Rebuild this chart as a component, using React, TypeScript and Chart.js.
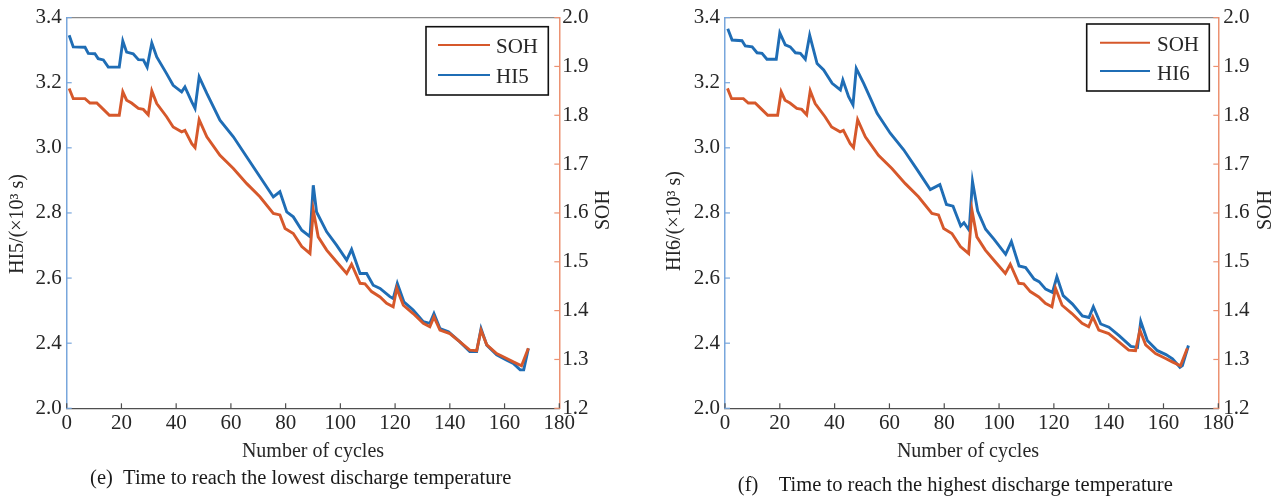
import React, { useEffect, useRef } from "react";
import { Chart, registerables } from "chart.js";

Chart.register(...registerables);

// ---------- data ----------
const sohCycles = [
  0.9, 2.4, 6.7, 8.5, 11.0, 13.4, 15.6, 19.2, 20.5, 21.9,
  23.7, 26.2, 28.0, 29.8, 31.1, 32.9, 36.5, 38.9, 42.0, 43.2,
  45.7, 46.9, 48.4, 51.2, 56.0, 60.9, 65.8, 70.6, 75.5, 77.9,
  79.8, 82.8, 85.9, 88.9, 90.1, 91.9, 95.0, 98.6, 102.3, 104.1,
  107.2, 109.0, 111.4, 114.5, 116.9, 119.3, 120.6, 123.0, 126.6, 130.3,
  132.7, 134.2, 136.4, 140.0, 143.7, 147.3, 149.8, 151.4, 153.5, 157.1,
  160.8, 163.2, 166.2, 168.7,
];
const sohValues = [
  1.855, 1.834, 1.834, 1.825, 1.825, 1.812, 1.8, 1.8, 1.848, 1.831,
  1.825, 1.814, 1.812, 1.801, 1.85, 1.824, 1.797, 1.776, 1.766, 1.769,
  1.742, 1.734, 1.791, 1.756, 1.718, 1.691, 1.66, 1.633, 1.599, 1.596,
  1.568, 1.558, 1.531, 1.517, 1.606, 1.551, 1.524, 1.5, 1.476, 1.495,
  1.456, 1.455, 1.439, 1.428, 1.415, 1.408, 1.446, 1.411, 1.394, 1.374,
  1.367, 1.387, 1.36, 1.353, 1.336, 1.319, 1.318, 1.36, 1.33, 1.312,
  1.302, 1.295, 1.287, 1.323,
];

const hi5Cycles = [
  0.9, 2.4, 6.7, 7.9, 10.3, 11.5, 13.4, 15.2, 19.2, 20.5,
  21.9, 24.3, 26.2, 28.0, 29.4, 31.1, 32.9, 36.5, 38.9, 42.0,
  43.2, 45.7, 46.9, 48.4, 51.2, 56.0, 60.9, 65.8, 70.6, 75.5,
  77.9, 80.4, 82.8, 85.9, 88.9, 90.1, 91.3, 95.0, 98.6, 102.3,
  104.1, 107.2, 109.6, 112.0, 114.5, 118.1, 119.3, 120.8, 123.2, 126.6,
  130.3, 132.7, 134.2, 136.4, 139.5, 143.7, 147.3, 149.8, 151.4, 153.5,
  157.1, 160.8, 163.2, 165.7, 167.0, 168.7,
];
const hi5Values = [
  3.346, 3.31, 3.309, 3.29, 3.289, 3.274, 3.27, 3.248, 3.248, 3.328,
  3.294, 3.289, 3.271, 3.27, 3.248, 3.322, 3.279, 3.228, 3.192, 3.172,
  3.187, 3.141, 3.121, 3.218, 3.167, 3.085, 3.034, 2.972, 2.911, 2.849,
  2.865, 2.803, 2.788, 2.747, 2.727, 2.885, 2.803, 2.742, 2.701, 2.655,
  2.688, 2.614, 2.614, 2.578, 2.568, 2.543, 2.537, 2.584, 2.527, 2.502,
  2.466, 2.461, 2.491, 2.445, 2.435, 2.404, 2.374, 2.374, 2.445, 2.394,
  2.364, 2.348, 2.338, 2.318, 2.318, 2.384,
];

const hi6Cycles = [
  1.0, 2.6, 6.2, 7.4, 9.9, 11.7, 13.5, 15.3, 18.7, 20.0,
  22.0, 23.8, 25.7, 27.5, 29.3, 30.9, 33.6, 36.0, 39.1, 42.1,
  43.0, 45.1, 46.7, 47.9, 50.6, 53.6, 55.5, 60.3, 65.2, 70.1,
  74.9, 78.4, 80.8, 83.2, 86.0, 87.2, 89.1, 90.3, 92.2, 95.1,
  98.2, 102.4, 104.5, 107.3, 109.7, 112.8, 114.6, 117.0, 119.5, 121.1,
  123.4, 126.8, 130.4, 132.8, 134.4, 137.1, 140.1, 143.8, 148.1, 150.5,
  151.7, 154.1, 157.8, 160.9, 163.3, 166.0, 166.9, 169.1,
];
const hi6Values = [
  3.366, 3.331, 3.329, 3.313, 3.31, 3.292, 3.29, 3.272, 3.272, 3.353,
  3.316, 3.31, 3.292, 3.29, 3.272, 3.346, 3.259, 3.239, 3.198, 3.178,
  3.208, 3.157, 3.132, 3.244, 3.198, 3.142, 3.106, 3.045, 2.994, 2.933,
  2.872, 2.887, 2.826, 2.821, 2.76, 2.77, 2.747, 2.897, 2.806, 2.75,
  2.719, 2.673, 2.712, 2.637, 2.632, 2.597, 2.589, 2.566, 2.556, 2.604,
  2.546, 2.52, 2.484, 2.479, 2.512, 2.459, 2.449, 2.423, 2.39, 2.387,
  2.467, 2.408, 2.377, 2.365, 2.352, 2.326, 2.331, 2.393,
];

const xTickValues = [0, 20, 40, 60, 80, 100, 120, 140, 160, 180];
const hiTickValues = [2.2, 2.4, 2.6, 2.8, 3.0, 3.2, 3.4];
const hiTickLabels = ["2.0", "2.4", "2.6", "2.8", "3.0", "3.2", "3.4"];
const sohTickValues = [1.2, 1.3, 1.4, 1.5, 1.6, 1.7, 1.8, 1.9, 2.0];
const sohTickLabels = ["1.2", "1.3", "1.4", "1.5", "1.6", "1.7", "1.8", "1.9", "2.0"];

// ---------- styling ----------
const FONT = '"Liberation Serif", "Times New Roman", serif';
const BLUE = "#1f6db5";
const ORANGE = "#d6582b";
const BLUE_AXIS = "#78a6dc";
const ORANGE_AXIS = "#ec9272";
const GRAY_AXIS = "#4f4f4f";
const TEXT = "#262626";

type PanelCfg = {
  left: number;
  width: number;
  height: number;
  area: { left: number; right: number; top: number; bottom: number };
  hiLabel: string;
  hiCycles: number[];
  hiValues: number[];
  yTitle: string;
  yTitlePos: [number, number];
  sohTitlePos: [number, number];
  xTitlePos: [number, number];
  caption: string;
  captionPos: [number, number];
  legendBox: [number, number, number, number];
  legendLineX: [number, number];
  legendLineY: [number, number];
  legendTextX: number;
  legendTextBase: [number, number];
  leftPad: number;
  rightPad: number;
};

const panels: PanelCfg[] = [
  {
    left: 0,
    width: 642,
    height: 497,
    area: { left: 66.7, right: 559.3, top: 17.3, bottom: 408.3 },
    hiLabel: "HI5",
    hiCycles: hi5Cycles,
    hiValues: hi5Values,
    yTitle: "HI5/(×10³ s)",
    yTitlePos: [18, 224],
    sohTitlePos: [604, 210],
    xTitlePos: [313, 456.5],
    caption: "(e)  Time to reach the lowest discharge temperature",
    captionPos: [300.7, 484],
    legendBox: [426, 26.7, 548.3, 95],
    legendLineX: [438, 490],
    legendLineY: [45, 75],
    legendTextX: 496,
    legendTextBase: [53.3, 82.7],
    leftPad: 5,
    rightPad: 3,
  },
  {
    left: 642,
    width: 642,
    height: 497,
    area: { left: 83, right: 576.3, top: 15.7, bottom: 408.3 },
    hiLabel: "HI6",
    hiCycles: hi6Cycles,
    hiValues: hi6Values,
    yTitle: "HI6/(×10³ s)",
    yTitlePos: [33, 221],
    sohTitlePos: [624, 210],
    xTitlePos: [326, 456.7],
    caption: "(f)    Time to reach the highest discharge temperature",
    captionPos: [313.3, 490.5],
    legendBox: [444.7, 24, 567.3, 91],
    legendLineX: [458, 508],
    legendLineY: [42.7, 71],
    legendTextX: 515,
    legendTextBase: [50.7, 80],
    leftPad: 5,
    rightPad: 5,
  },
];

function decoPlugin(cfg: PanelCfg) {
  return {
    id: "deco",
    afterDraw(chart: any) {
      const ctx = chart.ctx as CanvasRenderingContext2D;
      const ca = chart.chartArea;
      const xs = chart.scales.x;
      const yl = chart.scales.y;
      const yr = chart.scales.y1;
      ctx.save();

      // top border
      ctx.strokeStyle = "#8a8a8a";
      ctx.lineWidth = 1.2;
      ctx.beginPath();
      ctx.moveTo(ca.left, ca.top);
      ctx.lineTo(ca.right, ca.top);
      ctx.stroke();

      // inward tick marks
      ctx.lineWidth = 1.2;
      ctx.strokeStyle = GRAY_AXIS;
      xTickValues.forEach((v) => {
        const p = xs.getPixelForValue(v);
        ctx.beginPath();
        ctx.moveTo(p, ca.bottom);
        ctx.lineTo(p, ca.bottom - 5);
        ctx.stroke();
      });
      ctx.strokeStyle = BLUE_AXIS;
      hiTickValues.forEach((v) => {
        const p = yl.getPixelForValue(v);
        ctx.beginPath();
        ctx.moveTo(ca.left, p);
        ctx.lineTo(ca.left + 5, p);
        ctx.stroke();
      });
      ctx.strokeStyle = ORANGE_AXIS;
      sohTickValues.forEach((v) => {
        const p = yr.getPixelForValue(v);
        ctx.beginPath();
        ctx.moveTo(ca.right, p);
        ctx.lineTo(ca.right - 5, p);
        ctx.stroke();
      });

      // axis titles
      ctx.fillStyle = TEXT;
      ctx.font = `20px ${FONT}`;
      ctx.textAlign = "center";
      ctx.textBaseline = "middle";
      const rot = (text: string, x: number, y: number) => {
        ctx.save();
        ctx.translate(x, y);
        ctx.rotate(-Math.PI / 2);
        ctx.fillText(text, 0, 0);
        ctx.restore();
      };
      rot(cfg.yTitle, cfg.yTitlePos[0], cfg.yTitlePos[1]);
      rot("SOH", cfg.sohTitlePos[0], cfg.sohTitlePos[1]);

      ctx.textBaseline = "alphabetic";
      ctx.fillText("Number of cycles", cfg.xTitlePos[0], cfg.xTitlePos[1]);

      ctx.fillStyle = "#1a1a1a";
      ctx.font = `20.5px ${FONT}`;
      ctx.fillText(cfg.caption, cfg.captionPos[0], cfg.captionPos[1]);

      // legend
      const [bx0, by0, bx1, by1] = cfg.legendBox;
      ctx.fillStyle = "#ffffff";
      ctx.fillRect(bx0, by0, bx1 - bx0, by1 - by0);
      ctx.strokeStyle = "#111111";
      ctx.lineWidth = 1.6;
      ctx.strokeRect(bx0, by0, bx1 - bx0, by1 - by0);
      ctx.font = `21px ${FONT}`;
      ctx.textAlign = "left";
      chart.data.datasets.forEach((ds: any, i: number) => {
        ctx.strokeStyle = ds.borderColor;
        ctx.lineWidth = 2;
        ctx.beginPath();
        ctx.moveTo(cfg.legendLineX[0], cfg.legendLineY[i]);
        ctx.lineTo(cfg.legendLineX[1], cfg.legendLineY[i]);
        ctx.stroke();
        ctx.fillStyle = TEXT;
        ctx.fillText(ds.label, cfg.legendTextX, cfg.legendTextBase[i]);
      });

      ctx.restore();
    },
  };
}

function Panel({ cfg }: { cfg: PanelCfg }) {
  const ref = useRef<HTMLCanvasElement | null>(null);

  useEffect(() => {
    if (!ref.current) return;
    const tickFont = { family: FONT, size: 21 };
    const chart = new Chart(ref.current, {
      type: "line",
      data: {
        datasets: [
          {
            label: "SOH",
            data: sohCycles.map((c, i) => ({ x: c, y: sohValues[i] })),
            borderColor: ORANGE,
            borderWidth: 2.9,
            pointRadius: 0,
            tension: 0,
            yAxisID: "y1",
          },
          {
            label: cfg.hiLabel,
            data: cfg.hiCycles.map((c, i) => ({ x: c, y: cfg.hiValues[i] })),
            borderColor: BLUE,
            borderWidth: 2.9,
            pointRadius: 0,
            tension: 0,
            yAxisID: "y",
          },
        ],
      },
      options: {
        responsive: false,
        animation: false,
        layout: { padding: { top: cfg.area.top, left: 0, right: 0, bottom: 0 } },
        plugins: { legend: { display: false }, tooltip: { enabled: false } },
        scales: {
          x: {
            type: "linear",
            min: 0,
            max: 180,
            afterBuildTicks: (s: any) => {
              s.ticks = xTickValues.map((v) => ({ value: v }));
            },
            afterFit: (s: any) => {
              s.height = cfg.height - cfg.area.bottom;
            },
            grid: { display: false, drawTicks: false },
            border: { display: true, color: GRAY_AXIS, width: 1.3 },
            ticks: {
              font: tickFont,
              color: TEXT,
              padding: 3,
              maxRotation: 0,
              autoSkip: false,
              callback: (v: any) => String(v),
            },
          },
          y: {
            type: "linear",
            position: "left",
            min: 2.2,
            max: 3.4,
            afterBuildTicks: (s: any) => {
              s.ticks = hiTickValues.map((v) => ({ value: v }));
            },
            afterFit: (s: any) => {
              s.width = cfg.area.left;
            },
            grid: { display: false, drawTicks: false },
            border: { display: true, color: BLUE_AXIS, width: 1.5 },
            ticks: {
              font: tickFont,
              color: TEXT,
              padding: cfg.leftPad,
              autoSkip: false,
              callback: (_v: any, i: number) => hiTickLabels[i],
            },
          },
          y1: {
            type: "linear",
            position: "right",
            min: 1.2,
            max: 2.0,
            afterBuildTicks: (s: any) => {
              s.ticks = sohTickValues.map((v) => ({ value: v }));
            },
            afterFit: (s: any) => {
              s.width = cfg.width - cfg.area.right;
            },
            grid: { display: false, drawTicks: false },
            border: { display: true, color: ORANGE_AXIS, width: 1.5 },
            ticks: {
              font: tickFont,
              color: TEXT,
              padding: cfg.rightPad,
              autoSkip: false,
              callback: (_v: any, i: number) => sohTickLabels[i],
            },
          },
        },
      } as any,
      plugins: [decoPlugin(cfg)],
    });
    return () => chart.destroy();
  }, [cfg]);

  return (
    <canvas
      ref={ref}
      width={cfg.width}
      height={cfg.height}
      style={{
        position: "absolute",
        left: cfg.left,
        top: 0,
        width: cfg.width,
        height: cfg.height,
      }}
    />
  );
}

export default function App() {
  return (
    <div
      style={{
        position: "fixed",
        left: 0,
        top: 0,
        width: 1284,
        height: 497,
        background: "#ffffff",
        overflow: "hidden",
      }}
    >
      {panels.map((p) => (
        <Panel key={p.hiLabel} cfg={p} />
      ))}
    </div>
  );
}
